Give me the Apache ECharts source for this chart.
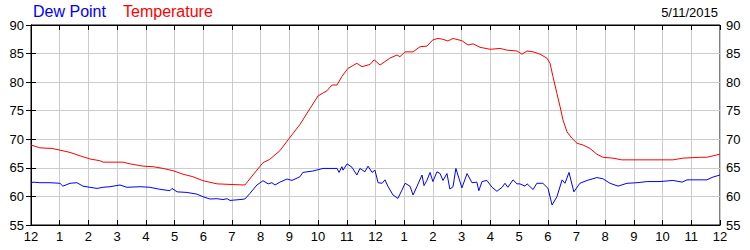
<!DOCTYPE html>
<html>
<head>
<meta charset="utf-8">
<script src="https://cdn.jsdelivr.net/npm/echarts@6/dist/echarts.min.js"></script>
<style>
html,body{margin:0;padding:0;background:#fff;}
#chart{width:750px;height:250px;}
</style>
</head>
<body>
<div id="chart"></div>
<script>
var hourLabels = ['12','1','2','3','4','5','6','7','8','9','10','11','12','1','2','3','4','5','6','7','8','9','10','11','12'];
var seriesNames = ['Dew Point', 'Temperature'];
var dateLabel = '5/11/2015';

var tempHours = [0,0.31,0.73,1.01,1.36,1.71,2.06,2.40,2.51,3.20,3.45,3.90,4.25,4.60,4.95,5.29,5.64,5.99,6.48,6.93,7.45,7.73,8.08,8.32,8.67,9.0,9.37,9.72,10.0,10.31,10.48,10.66,10.83,11.04,11.35,11.53,11.81,11.95,12.16,12.50,12.75,12.85,13.03,13.31,13.55,13.79,14.0,14.18,14.35,14.52,14.70,15.01,15.22,15.40,15.64,15.99,16.34,16.58,16.93,17.10,17.28,17.49,17.73,17.97,18.08,18.18,18.32,18.43,18.53,18.67,18.84,19.02,19.23,19.47,19.71,19.92,20.27,20.58,22.36,22.71,23.30,23.54,23.76,24.0];
var tempValues = [69.0,68.5,68.4,68.1,67.7,67.1,66.55,66.25,66.0,66.0,65.7,65.3,65.2,64.9,64.5,63.9,63.45,62.75,62.2,62.1,62.0,63.75,65.9,66.5,68.0,70.2,72.6,75.4,77.6,78.5,79.5,79.5,81.0,82.4,83.3,82.7,83.1,83.9,83.0,84.2,84.75,84.45,85.3,85.3,86.2,86.3,87.4,87.65,87.5,87.2,87.65,87.25,86.5,86.7,86.1,85.75,85.9,85.6,85.45,84.9,85.45,85.3,84.9,84.2,83.3,81.0,78.0,75.7,73.4,71.3,70.2,69.3,69.0,68.4,67.4,66.85,66.7,66.4,66.4,66.7,66.85,66.85,67.1,67.4];

var dewHours = [0,0.07,0.31,0.66,1.01,1.11,1.36,1.60,1.81,2.30,2.51,2.75,3.10,3.34,3.80,4.14,4.49,4.84,4.91,5.09,5.43,5.78,5.99,6.23,6.48,6.69,6.83,6.93,7.28,7.45,7.63,7.87,8.08,8.26,8.39,8.50,8.67,8.92,9.09,9.37,9.47,9.82,10.17,10.66,10.73,10.83,10.87,11.01,11.18,11.35,11.46,11.63,11.74,11.88,11.98,12.09,12.23,12.33,12.43,12.61,12.78,12.92,13.03,13.20,13.31,13.44,13.62,13.69,13.79,13.90,14.00,14.14,14.25,14.35,14.49,14.59,14.70,14.80,15.01,15.19,15.36,15.53,15.60,15.71,15.88,16.06,16.23,16.41,16.51,16.61,16.79,16.93,17.03,17.21,17.28,17.49,17.62,17.83,18.01,18.15,18.32,18.50,18.60,18.74,18.91,19.12,19.37,19.71,19.92,20.17,20.45,20.76,21.11,21.46,21.91,22.36,22.68,22.85,23.54,23.76,24.0];
var dewValues = [62.3,62.5,62.4,62.4,62.3,61.8,62.3,62.4,61.8,61.4,61.6,61.7,62.0,61.6,61.7,61.6,61.25,61.0,61.4,60.8,60.7,60.4,59.95,59.55,59.6,59.45,59.6,59.3,59.45,59.55,60.55,62.0,62.75,62.2,62.4,62.0,62.5,63.05,62.8,63.45,64.2,64.45,64.9,64.9,64.2,65.2,64.6,65.7,65.1,63.75,64.9,64.3,65.3,64.2,64.6,62.4,62.3,62.9,61.8,60.25,59.65,61.1,62.3,61.8,60.25,61.7,63.75,61.9,62.8,64.2,62.6,64.3,64.0,62.8,64.0,61.3,61.7,64.9,61.5,64.0,62.4,62.5,61.0,62.6,62.8,61.6,60.9,61.6,62.3,61.6,62.9,62.2,62.2,61.8,62.2,61.2,62.3,62.3,61.4,58.5,59.95,62.9,62.3,64.2,60.8,62.3,62.8,63.3,63.1,62.3,61.8,62.3,62.4,62.6,62.6,62.8,62.5,62.9,62.9,63.4,63.75];

function zip(xs, ys){ var out=[]; for(var i=0;i<xs.length;i++){ out.push([xs[i], ys[i]]); } return out; }

var FONT = 'Liberation Sans, Arial, sans-serif';
var chart = echarts.init(document.getElementById('chart'), null, {renderer:'svg'});
var tickStyle = {show:true, inside:true, length:5, lineStyle:{color:'#000', width:1}};
var lineStyle = {show:true, lineStyle:{color:'#000', width:1}};
chart.setOption({
  animation:false,
  backgroundColor:'#fff',
  grid:{left:31, right:30, top:25, bottom:25, show:true, borderColor:'#000', borderWidth:1},
  graphic:[
    {type:'text', left:33, top:3, style:{text:seriesNames[0], fill:'#0000ff', font:'16px '+FONT}},
    {type:'text', left:123, top:3, style:{text:seriesNames[1], fill:'#ff0000', font:'16px '+FONT}},
    {type:'text', right:32, top:6, style:{text:dateLabel, fill:'#000', font:'13px '+FONT}}
  ],
  xAxis:[
    {type:'value', position:'bottom', min:0, max:24, interval:1,
     axisLine:lineStyle, axisTick:tickStyle,
     axisLabel:{color:'#000', fontFamily:FONT, fontSize:13, margin:5, formatter:function(v){return hourLabels[Math.round(v)];}},
     splitLine:{show:true, lineStyle:{color:'#cccccc', width:1}}},
    {type:'value', position:'top', min:0, max:24, interval:1,
     axisLine:lineStyle, axisTick:tickStyle, axisLabel:{show:false}, splitLine:{show:false}}
  ],
  yAxis:[
    {type:'value', position:'left', min:55, max:90, interval:5,
     axisLine:lineStyle, axisTick:tickStyle,
     axisLabel:{color:'#000', fontFamily:FONT, fontSize:13, margin:7},
     splitLine:{show:true, lineStyle:{color:'#cccccc', width:1}}},
    {type:'value', position:'right', min:55, max:90, interval:5,
     axisLine:lineStyle, axisTick:tickStyle,
     axisLabel:{color:'#000', fontFamily:FONT, fontSize:13, margin:6},
     splitLine:{show:false}}
  ],
  series:[
    {name:seriesNames[0], type:'line', xAxisIndex:0, yAxisIndex:0, showSymbol:false, data:zip(dewHours, dewValues),
     lineStyle:{color:'#0000ff', width:1}, itemStyle:{color:'#0000ff'}},
    {name:seriesNames[1], type:'line', xAxisIndex:0, yAxisIndex:0, showSymbol:false, data:zip(tempHours, tempValues),
     lineStyle:{color:'#ff0000', width:1}, itemStyle:{color:'#ff0000'}}
  ]
});
</script>
</body>
</html>
